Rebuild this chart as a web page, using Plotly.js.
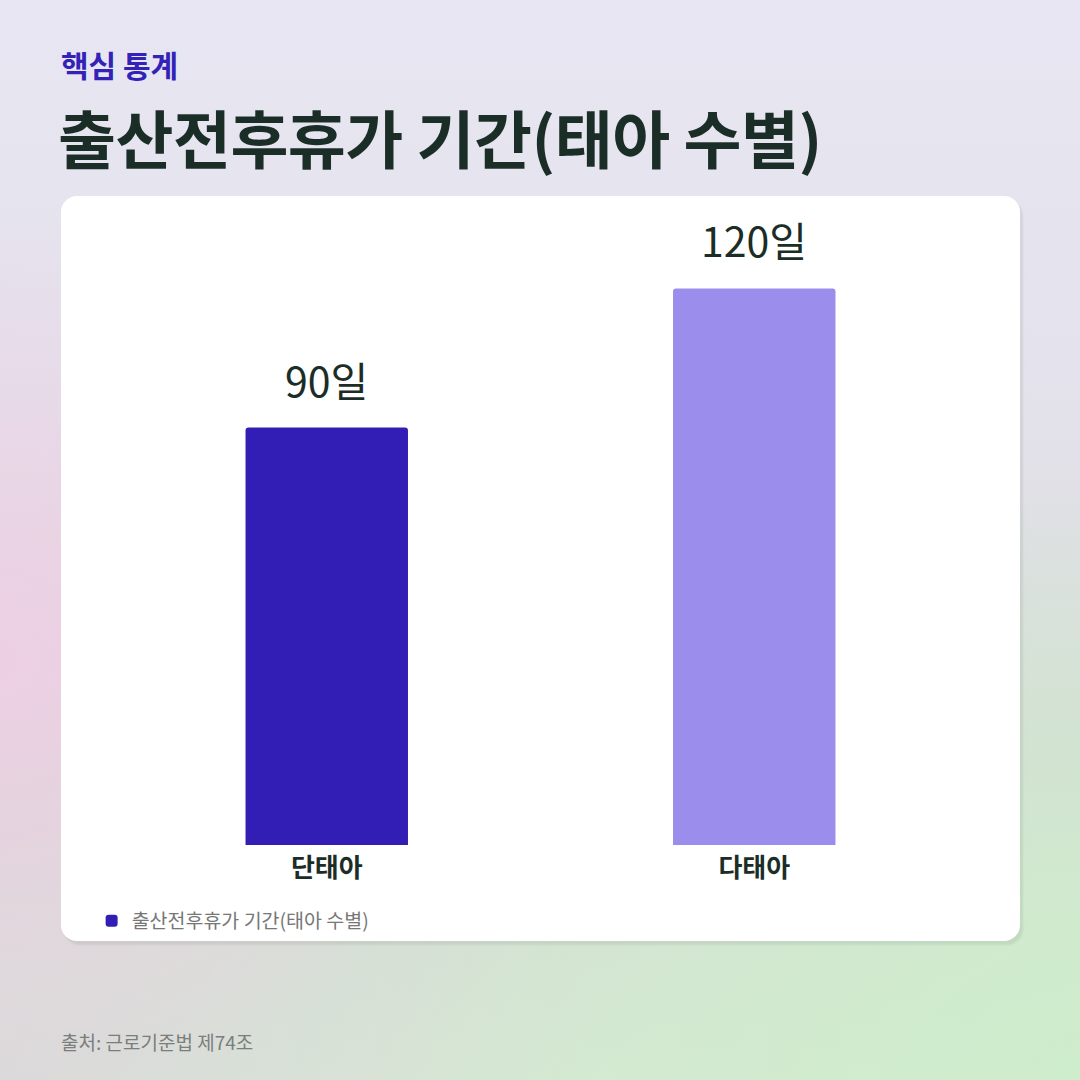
<!DOCTYPE html>
<html>
<head>
<meta charset="utf-8">
<script src="https://cdn.plot.ly/plotly-3.0.1.min.js"></script>
<style>
html,body{margin:0;padding:0;}
body{width:1080px;height:1080px;overflow:hidden;position:relative;font-family:"Noto Sans CJK KR","Noto Sans",sans-serif;
background:
 radial-gradient(ellipse 480px 450px at 0px 660px, rgba(238,206,228,0.95), rgba(238,206,228,0) 100%),
 radial-gradient(ellipse 700px 600px at 1080px 1080px, rgba(206,237,204,1), rgba(206,237,204,0) 100%),
 radial-gradient(ellipse 600px 500px at 0px 1080px, rgba(218,218,218,1), rgba(218,218,218,0) 100%),
 linear-gradient(180deg,#e8e6f2 0%,#e3e1ea 40%,#d4dbd4 72%,#d6e8d3 100%);}
#kicker{position:absolute;left:61px;top:42px;font-size:30px;font-weight:700;color:#3322b8;}
#title{position:absolute;left:58px;top:90px;font-size:63px;font-weight:700;color:#1b2d27;letter-spacing:-0.5px;}
#card{position:absolute;left:61px;top:196px;width:959px;height:745px;background:#fff;border-radius:16px;box-shadow:3px 4px 2px rgba(60,70,60,0.09);}
#source{position:absolute;left:61px;top:1028px;font-size:19px;color:#7a7e7c;}
#chart{position:absolute;left:0;top:0;width:1080px;height:1080px;}
</style>
</head>
<body>
<div id="kicker">핵심 통계</div>
<div id="title">출산전후휴가 기간(태아 수별)</div>
<div id="card"></div>
<div id="source">출처: 근로기준법 제74조</div>
<div id="chart"></div>
<script>
const categories = ["단태아", "다태아"];
const values = [90, 120];
const valueLabels = ["90일", "120일"];
const seriesName = "출산전후휴가 기간(태아 수별)";
const barColors = ["#321eb4", "#9b8deb"];

const trace = {
  type: "bar",
  x: categories,
  y: values,
  name: seriesName,
  marker: {color: barColors},
  hoverinfo: "none",
  showlegend: true
};

const annotations = categories.map((c, i) => ({
  x: c, y: values[i], xref: "x", yref: "y",
  text: valueLabels[i], showarrow: false,
  yanchor: "bottom", yshift: 17,
  font: {family: "Noto Sans CJK KR", size: 41, color: "#1b2d27"}
}));

const layout = {
  width: 1080, height: 1080,
  margin: {l: 112.5, r: 111.5, t: 242, b: 235, pad: 0},
  paper_bgcolor: "rgba(0,0,0,0)",
  plot_bgcolor: "rgba(0,0,0,0)",
  bargap: 0.62,
  barcornerradius: 3,
  showlegend: true,
  legend: {orientation: "h", x: -0.025, xanchor: "left", y: -0.094, yanchor: "top",
    font: {family: "Noto Sans CJK KR", size: 19.5, color: "#777"}, bgcolor: "rgba(0,0,0,0)",
    itemwidth: 30},
  xaxis: {type: "category", showgrid: false, zeroline: false, showline: false, ticks: "",
    tickfont: {family: "Noto Sans CJK KR", size: 26, color: "#1b2d27", weight: 700}, ticklabelstandoff: 5, fixedrange: true},
  yaxis: {range: [0, 130], visible: false, showgrid: false, zeroline: false, fixedrange: true},
  annotations: annotations,
  font: {family: "Noto Sans CJK KR"}
};

Plotly.newPlot("chart", [trace], layout, {displayModeBar: false, staticPlot: true});
</script>
</body>
</html>
